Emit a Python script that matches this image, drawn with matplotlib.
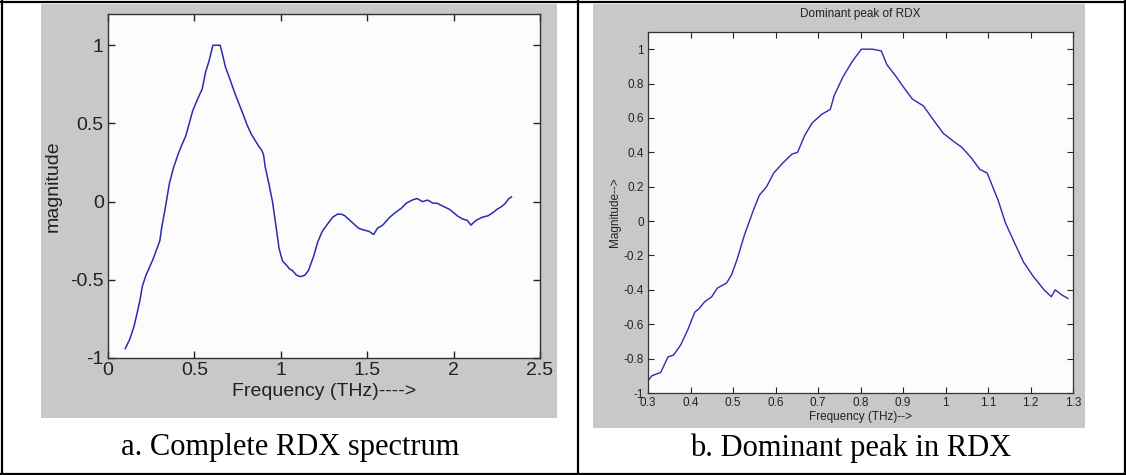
import matplotlib
matplotlib.use('Agg')
import matplotlib.pyplot as plt
from matplotlib.patches import Rectangle
from matplotlib.lines import Line2D

# ---------------- data ----------------
freq_a = [0.10, 0.126, 0.15, 0.167, 0.185, 0.199, 0.22, 0.24, 0.26, 0.28, 0.30, 0.31, 0.33,
          0.356, 0.38, 0.408, 0.43, 0.45, 0.47, 0.49, 0.52, 0.545, 0.565, 0.585, 0.607, 0.628,
          0.649, 0.665, 0.68, 0.70, 0.732, 0.76, 0.785, 0.805, 0.83, 0.858, 0.875, 0.889, 0.90,
          0.91, 0.93, 0.952, 0.97, 0.99, 1.01, 1.036, 1.05, 1.067, 1.09, 1.115, 1.14, 1.16,
          1.19, 1.213, 1.24, 1.266, 1.30, 1.328, 1.35, 1.37, 1.40, 1.42, 1.45, 1.475, 1.51,
          1.537, 1.56, 1.59, 1.63, 1.663, 1.70, 1.726, 1.76, 1.789, 1.82, 1.85, 1.88, 1.904,
          1.94, 1.977, 2.00, 2.02, 2.05, 2.08, 2.10, 2.13, 2.165, 2.20, 2.228, 2.25, 2.28,
          2.30, 2.32, 2.335]
mag_a = [-0.94, -0.88, -0.80, -0.72, -0.63, -0.54, -0.47, -0.42, -0.37, -0.31, -0.25, -0.17, -0.05,
         0.12, 0.22, 0.31, 0.37, 0.42, 0.50, 0.58, 0.66, 0.72, 0.83, 0.90, 1.00, 1.00,
         1.00, 0.93, 0.86, 0.80, 0.70, 0.62, 0.55, 0.49, 0.43, 0.38, 0.35, 0.33, 0.30,
         0.22, 0.12, 0.00, -0.14, -0.30, -0.38, -0.41, -0.43, -0.44, -0.47, -0.48, -0.47, -0.44,
         -0.35, -0.26, -0.19, -0.15, -0.10, -0.08, -0.08, -0.09, -0.12, -0.14, -0.17, -0.18, -0.19,
         -0.21, -0.17, -0.15, -0.10, -0.07, -0.04, -0.01, 0.01, 0.02, 0.00, 0.01, -0.01, -0.01,
         -0.03, -0.05, -0.07, -0.09, -0.11, -0.12, -0.15, -0.12, -0.10, -0.09, -0.07, -0.05, -0.03,
         -0.01, 0.02, 0.03]

freq_b = [0.30, 0.309, 0.33, 0.347, 0.36, 0.377, 0.394, 0.41, 0.42, 0.433, 0.45, 0.463, 0.485,
          0.497, 0.51, 0.527, 0.549, 0.562, 0.579, 0.596, 0.618, 0.639, 0.652, 0.669, 0.686,
          0.708, 0.729, 0.738, 0.759, 0.781, 0.802, 0.828, 0.849, 0.862, 0.884, 0.901, 0.922,
          0.948, 0.974, 0.995, 1.021, 1.038, 1.06, 1.081, 1.098, 1.111, 1.124, 1.141, 1.163,
          1.184, 1.206, 1.232, 1.249, 1.258, 1.274, 1.288]
mag_b = [-0.93, -0.90, -0.88, -0.79, -0.78, -0.72, -0.63, -0.53, -0.51, -0.47, -0.44, -0.39, -0.36,
         -0.31, -0.22, -0.08, 0.07, 0.15, 0.20, 0.28, 0.34, 0.39, 0.40, 0.50, 0.57,
         0.62, 0.65, 0.73, 0.84, 0.93, 1.00, 1.00, 0.99, 0.91, 0.84, 0.78, 0.71,
         0.67, 0.58, 0.51, 0.46, 0.43, 0.37, 0.30, 0.28, 0.20, 0.12, -0.01, -0.13,
         -0.24, -0.32, -0.40, -0.44, -0.40, -0.43, -0.45]

xticks_a = [0, 0.5, 1, 1.5, 2, 2.5]
xticklabels_a = ['0', '0.5', '1', '1.5', '2', '2.5']
yticks_a = [-1, -0.5, 0, 0.5, 1]
yticklabels_a = ['-1', '-0.5', '0', '0.5', '1']

xticks_b = [0.3, 0.4, 0.5, 0.6, 0.7, 0.8, 0.9, 1.0, 1.1, 1.2, 1.3]
xticklabels_b = ['0.3', '0.4', '0.5', '0.6', '0.7', '0.8', '0.9', '1', '1.1', '1.2', '1.3']
yticks_b = [-1, -0.8, -0.6, -0.4, -0.2, 0, 0.2, 0.4, 0.6, 0.8, 1]
yticklabels_b = ['-1', '-0.8', '-0.6', '-0.4', '-0.2', '0', '0.2', '0.4', '0.6', '0.8', '1']

caption_a = 'a. Complete RDX spectrum'
caption_b = 'b. Dominant peak in RDX'

# ---------------- layout ----------------
W, H = 1126, 475
fig = plt.figure(figsize=(W / 100, H / 100), dpi=100)
fig.patch.set_facecolor('white')

def fx(x):
    return x / W

def fy(y):
    return 1 - y / H

def rect_axes(x0, y0, x1, y1):
    return [fx(x0), fy(y1), (x1 - x0) / W, (y1 - y0) / H]

GREY = '#c8c8c8'
fig.add_artist(Rectangle((fx(41), fy(418)), (557 - 41) / W, (418 - 4) / H,
                         transform=fig.transFigure, facecolor=GREY, edgecolor='none', zorder=0))
fig.add_artist(Rectangle((fx(593), fy(428)), (1085 - 593) / W, (428 - 4) / H,
                         transform=fig.transFigure, facecolor=GREY, edgecolor='none', zorder=0))

# table borders
for xs, ys in [([1, 1125], [1.5, 1.5]), ([1, 1125], [473.5, 473.5]),
               ([1.5, 1.5], [1, 474]), ([1124.5, 1124.5], [1, 474]), ([578, 578], [1, 474])]:
    fig.add_artist(Line2D([fx(v) for v in xs], [fy(v) for v in ys], transform=fig.transFigure,
                          color='black', lw=1.6, zorder=5))

SANS = ['Liberation Sans', 'DejaVu Sans']
LINE = '#2b2bb0'
TXT = '#222222'

# panel a
axa = fig.add_axes(rect_axes(108, 14, 540, 358))
axa.set_facecolor('#fcfcfc')
axa.plot(freq_a, mag_a, color=LINE, lw=1.1)
axa.set_xlim(0, 2.5)
axa.set_ylim(-1, 1.2)
axa.set_xticks(xticks_a)
axa.set_xticklabels(xticklabels_a, family=SANS, fontsize=14, color=TXT)
axa.set_yticks(yticks_a)
axa.set_yticklabels(yticklabels_a, family=SANS, fontsize=14, color=TXT)
axa.tick_params(direction='in', top=True, right=True, length=5, width=1, pad=3, colors=TXT)
axa.set_xlabel('Frequency (THz)---->', family=SANS, fontsize=14, color=TXT, labelpad=3)
axa.set_ylabel('magnitude', family=SANS, fontsize=14, color=TXT, labelpad=6)
for s in axa.spines.values():
    s.set_color('#333333')
    s.set_linewidth(1.0)

# panel b
axb = fig.add_axes(rect_axes(648, 32, 1073, 393))
axb.set_facecolor('#fcfcfc')
axb.plot(freq_b, mag_b, color=LINE, lw=1.0)
axb.set_xlim(0.3, 1.3)
axb.set_ylim(-1, 1.1)
axb.set_xticks(xticks_b)
axb.set_xticklabels(xticklabels_b, family=SANS, fontsize=8.5, color=TXT)
axb.set_yticks(yticks_b)
axb.set_yticklabels(yticklabels_b, family=SANS, fontsize=8.5, color=TXT)
axb.tick_params(direction='in', top=True, right=True, length=4, width=0.8, pad=3, colors=TXT)
axb.set_xlabel('Frequency (THz)-->', family=SANS, fontsize=8.5, color=TXT, labelpad=1)
axb.set_ylabel('Magnitude-->', family=SANS, fontsize=8.5, color=TXT, labelpad=2)
axb.set_title('Dominant peak of RDX', family=SANS, fontsize=8.5, color=TXT, pad=11)
for s in axb.spines.values():
    s.set_color('#333333')
    s.set_linewidth(0.9)

# captions
fig.text(fx(290), fy(448), caption_a, family=['Liberation Serif', 'DejaVu Serif'], fontsize=22,
         ha='center', va='center', color='black')
fig.text(fx(851), fy(448), caption_b, family=['Liberation Serif', 'DejaVu Serif'], fontsize=22,
         ha='center', va='center', color='black')

fig.savefig('out.png', dpi=100, facecolor='white')
